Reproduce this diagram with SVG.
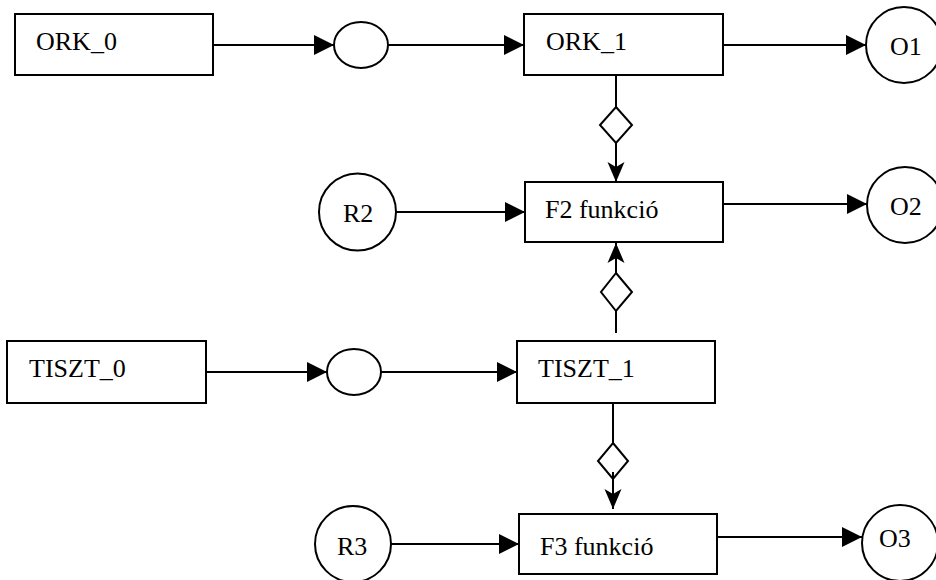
<svg xmlns="http://www.w3.org/2000/svg" width="936" height="580" viewBox="0 0 936 580">
<defs>
<style>
.box{fill:#fff;stroke:#000;stroke-width:2}
.circ{fill:#fff;stroke:#000;stroke-width:2}
.dia{fill:#fff;stroke:#000;stroke-width:2}
.ln{fill:none;stroke:#000;stroke-width:2}
.ah{marker-end:url(#tri)}
.av{marker-end:url(#notch)}
.t{font-family:'Liberation Serif','DejaVu Serif',serif;font-size:26px;fill:#000}
</style>
<marker id="tri" markerUnits="userSpaceOnUse" markerWidth="20" markerHeight="20" refX="20" refY="10" orient="auto">
<path d="M0,0 L20,10 L0,20 Z" fill="#000"/>
</marker>
<marker id="notch" markerUnits="userSpaceOnUse" markerWidth="20" markerHeight="18" refX="20" refY="9" orient="auto">
<path d="M0,0.5 L20,9 L0,17.5 L5,9 Z" fill="#000"/>
</marker>
</defs>
<g id="connectors">
<line class="ln ah" x1="213" y1="45" x2="334" y2="45"/>
<line class="ln ah" x1="388" y1="45" x2="524" y2="45"/>
<line class="ln ah" x1="723" y1="45" x2="866" y2="45"/>
<line class="ln" x1="616" y1="75" x2="616" y2="107"/>
<polygon class="dia" points="616,107 632,125 616,143 600,125"/>
<line class="ln av" x1="616" y1="143" x2="616" y2="182"/>
<line class="ln ah" x1="396" y1="212" x2="525" y2="212"/>
<line class="ln ah" x1="723" y1="204" x2="867" y2="204"/>
<line class="ln" x1="616" y1="333" x2="616" y2="311"/>
<polygon class="dia" points="616,273 632,292 616,311 601,292"/>
<line class="ln av" x1="616" y1="273" x2="616" y2="243"/>
<line class="ln ah" x1="206" y1="372" x2="327" y2="372"/>
<line class="ln ah" x1="381" y1="372" x2="517" y2="372"/>
<line class="ln" x1="613" y1="403" x2="613" y2="443"/>
<polygon class="dia" points="613,443 628,461 613,479 598,461"/>
<line class="ln av" x1="613" y1="472" x2="613" y2="509"/>
<line class="ln ah" x1="391" y1="544" x2="519" y2="544"/>
<line class="ln ah" x1="717" y1="537" x2="862" y2="537"/>
</g>
<g font-family="Liberation Serif, DejaVu Serif, serif" font-size="26">
<g id="ork0"><rect class="box" x="15" y="14" width="198" height="61"/><text class="t" x="36" y="50">ORK_0</text></g>
<g id="e1"><ellipse class="circ" cx="361" cy="45" rx="27" ry="23"/></g>
<g id="ork1"><rect class="box" x="524" y="14" width="199" height="61"/><text class="t" x="546" y="50">ORK_1</text></g>
<g id="o1"><circle class="circ" cx="904" cy="45" r="38"/><text class="t" x="890" y="55">O1</text></g>
<g id="r2"><circle class="circ" cx="357.5" cy="212" r="38.5"/><text class="t" x="343" y="222">R2</text></g>
<g id="f2"><rect class="box" x="525" y="182" width="198" height="60"/><text class="t" x="545" y="218">F2 funkció</text></g>
<g id="o2"><circle class="circ" cx="905" cy="205" r="38"/><text class="t" x="890" y="215">O2</text></g>
<g id="tiszt0"><rect class="box" x="7" y="341" width="199" height="62"/><text class="t" x="29" y="377">TISZT_0</text></g>
<g id="e2"><ellipse class="circ" cx="354" cy="372" rx="27" ry="23"/></g>
<g id="tiszt1"><rect class="box" x="517" y="341" width="198" height="62"/><text class="t" x="538" y="377">TISZT_1</text></g>
<g id="r3"><circle class="circ" cx="353" cy="544" r="38"/><text class="t" x="337" y="555">R3</text></g>
<g id="f3"><rect class="box" x="519" y="514" width="198" height="60"/><text class="t" x="540" y="555">F3 funkció</text></g>
<g id="o3"><circle class="circ" cx="900" cy="543" r="38"/><text class="t" x="879" y="547">O3</text></g>
</g>
</svg>
